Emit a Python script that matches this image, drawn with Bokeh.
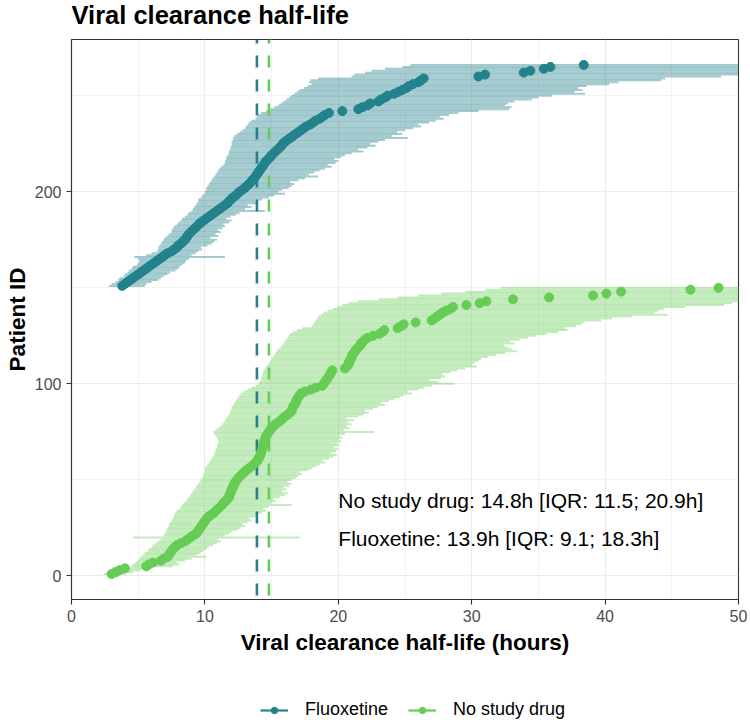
from bokeh.plotting import figure
from bokeh.layouts import column
from bokeh.models import (ColumnDataSource, FixedTicker, Label, Legend, LegendItem, Range1d)
from bokeh.embed import file_html
from bokeh.resources import INLINE

# ---------------- data ----------------
# No study drug: patients 1..150, sorted by estimated half-life (hours)
nsd_med = [3.0, 3.35, 3.6, 4.0, 5.6, 5.8, 6.1, 6.7, 6.9, 7.2,
           7.3, 7.4, 7.5, 7.6, 7.75, 7.9, 8.2, 8.5, 8.7, 8.9,
           9.1, 9.35, 9.45, 9.55, 9.65, 9.75, 9.85, 9.95, 10.05, 10.15,
           10.3, 10.5, 10.7, 10.85, 11.0, 11.15, 11.3, 11.4, 11.55, 11.7,
           11.8, 11.85, 11.9, 11.95, 12.0, 12.1, 12.15, 12.2, 12.3, 12.4,
           12.5, 12.65, 12.8, 12.95, 13.1, 13.3, 13.5, 13.65, 13.8, 13.95,
           14.0, 14.1, 14.15, 14.2, 14.25, 14.3, 14.35, 14.37, 14.4, 14.45,
           14.5, 14.55, 14.6, 14.7, 14.8, 14.9, 15.0, 15.15, 15.3, 15.5,
           15.7, 15.85, 16.0, 16.2, 16.4, 16.5, 16.55, 16.6, 16.7, 16.8,
           16.85, 16.9, 17.0, 17.1, 17.2, 17.5, 17.95, 18.3, 18.8, 18.9,
           19.0, 19.1, 19.2, 19.3, 19.4, 19.45, 19.55, 20.5, 20.65, 20.75,
           20.8, 20.85, 20.96, 21.0, 21.05, 21.15, 21.25, 21.35, 21.5, 21.65,
           21.7, 21.85, 22.0, 22.2, 22.6, 23.08, 23.3, 23.45, 24.45, 24.7,
           24.9, 25.8, 27.0, 27.2, 27.4, 27.6, 27.8, 28.07, 28.4, 28.6,
           29.6, 30.6, 31.1, 33.1, 35.8, 39.1, 40.1, 41.2, 46.4, 48.5]
nsd_lo = [2.4, 2.7, 2.9, 3.0, 4.5, 4.6, 4.8, 5.0, 5.1, 5.2,
          5.4, 5.5, 5.7, 5.8, 6.0, 6.1, 6.3, 6.5, 6.7, 4.6,
          6.9, 7.0, 7.1, 7.1, 7.2, 7.3, 7.3, 7.4, 7.5, 7.6,
          7.7, 7.7, 7.8, 7.9, 8.1, 8.2, 8.3, 8.4, 8.6, 8.7,
          8.8, 8.9, 9.0, 9.1, 9.2, 9.3, 9.4, 9.5, 9.6, 9.7,
          9.8, 9.9, 9.9, 10.0, 10.0, 10.0, 10.1, 10.2, 10.3, 10.4,
          10.5, 10.6, 10.7, 10.7, 10.8, 10.8, 10.9, 10.9, 11.0, 11.0,
          11.0, 10.9, 10.8, 10.7, 10.6, 10.8, 11.0, 11.2, 11.3, 11.4,
          11.5, 11.6, 11.7, 11.8, 11.9, 11.9, 12.0, 12.0, 12.1, 12.2,
          12.3, 12.4, 12.5, 12.6, 12.7, 12.9, 13.2, 13.5, 13.8, 14.0,
          14.1, 14.2, 14.2, 14.3, 14.3, 14.35, 14.4, 14.5, 14.6, 14.7,
          14.8, 14.9, 15.0, 15.1, 15.2, 15.3, 15.4, 15.5, 15.7, 15.8,
          15.9, 16.0, 16.1, 16.2, 16.3, 16.4, 16.6, 16.9, 17.3, 18.0,
          18.1, 18.2, 18.3, 18.4, 18.5, 18.7, 18.9, 19.2, 19.6, 19.9,
          20.3, 20.7, 21.5, 23.0, 24.45, 26.0, 27.7, 29.5, 31.0, 32.2]
nsd_hi = [4.1, 4.6, 5.2, 5.6, 7.6, 8.1, 7.9, 8.5, 9.0, 10.1,
          9.4, 9.7, 9.9, 10.1, 10.3, 10.6, 10.9, 11.2, 11.0, 17.1,
          11.5, 11.8, 12.0, 12.4, 12.7, 13.0, 12.8, 13.2, 13.5, 13.3,
          13.8, 14.0, 14.3, 14.6, 14.4, 14.8, 16.5, 15.0, 15.3, 15.1,
          15.6, 16.0, 16.2, 15.8, 16.1, 15.9, 16.3, 16.5, 16.2, 16.5,
          16.8, 17.0, 17.3, 17.1, 17.7, 18.0, 18.3, 18.6, 19.0, 18.8,
          19.3, 19.6, 19.9, 19.5, 19.8, 20.0, 19.7, 20.1, 19.9, 20.2,
          20.0, 20.3, 20.1, 20.5, 22.7, 20.4, 20.8, 20.6, 21.0, 20.7,
          21.2, 20.6, 21.5, 21.9, 22.3, 22.0, 22.6, 23.0, 23.5, 23.2,
          23.8, 24.2, 24.6, 24.9, 25.5, 25.2, 26.0, 26.4, 27.0, 28.7,
          27.5, 26.9, 27.7, 28.0, 27.8, 28.4, 28.9, 29.5, 30.4, 30.0,
          30.2, 30.5, 30.7, 31.2, 31.8, 32.5, 33.4, 33.0, 32.7, 32.4,
          33.2, 32.9, 33.6, 34.2, 34.8, 35.6, 36.5, 37.2, 37.0, 37.8,
          38.2, 38.4, 39.7, 40.5, 42.0, 44.7, 43.7, 44.0, 44.4, 46.0,
          48.9, 49.5, 52.0, 54.0, 56.0, 58.0, 60.0, 62.0, 66.0, 70.0]

# Fluoxetine: patients 151..266
flx_med = [3.8, 4.0, 4.2, 4.4, 4.6, 4.8, 5.0, 5.2, 5.4, 5.6,
           5.8, 6.0, 6.2, 6.4, 6.6, 6.8, 7.0, 7.2, 7.5, 7.7,
           7.9, 8.0, 8.2, 8.35, 8.5, 8.6, 8.7, 8.8, 8.95, 9.1,
           9.25, 9.4, 9.55, 9.7, 9.9, 10.1, 10.3, 10.5, 10.7, 10.9,
           11.1, 11.3, 11.5, 11.7, 11.8, 11.95, 12.1, 12.3, 12.45, 12.6,
           12.8, 13.0, 13.15, 13.3, 13.45, 13.55, 13.7, 13.8, 13.9, 14.0,
           14.1, 14.2, 14.3, 14.4, 14.5, 14.6, 14.75, 14.9, 15.0, 15.15,
           15.3, 15.45, 15.6, 15.75, 15.85, 16.0, 16.2, 16.4, 16.6, 16.8,
           17.0, 17.2, 17.4, 17.6, 17.9, 18.1, 18.3, 18.6, 18.8, 19.0,
           19.3, 20.3, 21.5, 21.8, 22.2, 22.4, 23.0, 23.2, 23.5, 23.7,
           24.2, 24.5, 24.8, 25.1, 25.3, 25.6, 26.0, 26.2, 26.4, 30.5,
           31.0, 33.9, 34.4, 35.4, 35.9, 38.4]
flx_lo = [2.8, 3.0, 3.3, 3.5, 3.6, 3.9, 4.0, 4.2, 4.3, 4.5,
          4.6, 4.9, 5.0, 5.1, 5.0, 4.7, 5.6, 6.0, 6.4, 6.5,
          6.5, 6.6, 6.7, 6.8, 6.9, 7.0, 7.2, 7.3, 7.5, 7.5,
          7.6, 7.7, 7.9, 8.0, 8.2, 8.3, 8.5, 8.7, 8.8, 9.0,
          9.1, 9.2, 9.3, 9.4, 9.5, 9.5, 9.7, 9.8, 10.0, 10.0,
          10.1, 10.1, 10.2, 10.3, 10.4, 10.5, 10.6, 10.7, 10.8, 10.9,
          11.0, 11.1, 11.2, 11.4, 11.5, 11.5, 11.6, 11.6, 11.7, 11.8,
          11.8, 11.9, 11.9, 12.0, 12.0, 12.0, 12.1, 12.1, 12.2, 12.4,
          12.6, 12.8, 13.0, 13.1, 13.2, 13.3, 13.5, 13.8, 13.9, 14.0,
          14.2, 14.6, 14.9, 15.2, 15.5, 15.7, 15.9, 16.1, 16.3, 16.5,
          16.7, 16.9, 17.1, 17.4, 17.7, 18.0, 17.8, 17.9, 18.5, 21.0,
          21.2, 22.0, 22.5, 23.5, 24.8, 25.4]
flx_hi = [5.5, 5.6, 6.0, 6.5, 6.7, 6.9, 7.2, 7.4, 7.8, 8.0,
          8.1, 8.3, 8.5, 8.6, 8.8, 11.5, 9.0, 9.3, 9.5, 9.8,
          9.7, 10.2, 10.5, 10.7, 10.9, 10.4, 11.0, 10.8, 11.2, 11.0,
          11.3, 11.5, 11.4, 11.8, 12.0, 11.6, 11.9, 12.3, 12.6, 14.5,
          13.0, 13.5, 13.2, 14.0, 13.8, 14.3, 14.8, 15.2, 16.0, 15.5,
          15.8, 16.3, 16.5, 16.7, 16.4, 17.0, 17.5, 18.5, 17.8, 18.2,
          18.6, 19.0, 19.5, 19.2, 19.8, 20.0, 19.7, 20.2, 20.5, 21.0,
          21.9, 21.5, 22.2, 22.8, 22.4, 23.0, 23.5, 25.2, 24.0, 24.8,
          24.4, 25.0, 25.6, 26.2, 26.0, 26.8, 27.3, 27.9, 27.6, 28.3,
          29.0, 30.5, 32.8, 33.0, 32.5, 32.7, 33.2, 34.5, 35.0, 36.0,
          38.5, 37.7, 38.3, 38.0, 38.6, 40.3, 41.0, 44.2, 44.5, 48.7,
          52.0, 55.0, 56.0, 58.0, 60.0, 62.0]

groups = ["Fluoxetine", "No study drug"]
group_median = [13.9, 14.8]
annotations = ["No study drug: 14.8h [IQR: 11.5; 20.9h]",
               "Fluoxetine: 13.9h [IQR: 9.1; 18.3h]"]
annotation_y = [39.5, 19.5]
x_ticks = [0, 10, 20, 30, 40, 50]
x_minor = [5, 15, 25, 35, 45]
y_ticks = [0, 100, 200]
y_minor = [50, 150, 250]

nsd_id = list(range(1, len(nsd_med) + 1))
flx_id = list(range(len(nsd_med) + 1, len(nsd_med) + len(flx_med) + 1))

TEAL = "#23828C"
GREEN = "#66CC55"
FONT = "Liberation Sans"
W = 748


def blank(height):
    f = figure(width=W, height=height, x_range=Range1d(0, 1), y_range=Range1d(0, 1),
               output_backend="svg", toolbar_location=None,
               x_axis_location=None, y_axis_location=None,
               min_border=0, min_border_left=0, min_border_right=0,
               min_border_top=0, min_border_bottom=0)
    f.outline_line_color = None
    f.xgrid.visible = False
    f.ygrid.visible = False
    f.background_fill_color = "white"
    f.border_fill_color = "white"
    return f


# ---------------- title strip (frame is aligned with the main frame) ----------------
p_title = blank(36)
p_title.add_layout(Label(x=0, y=21.5, x_units="screen", y_units="screen",
                         text="Viral clearance half-life", text_font=FONT,
                         text_font_style="bold", text_font_size="25.5px",
                         text_color="black", text_baseline="middle"))

# ---------------- main panel ----------------
n_all = len(nsd_med) + len(flx_med)
pad = 0.05 * (n_all - 1)
yr = Range1d(1 - pad, n_all + pad)
xr = Range1d(0, 50)

p = figure(width=W, height=654, x_range=xr, y_range=yr,
           output_backend="svg", toolbar_location=None,
           min_border_left=71, min_border_right=10,
           min_border_top=3, min_border_bottom=91)
p.background_fill_color = "white"
p.border_fill_color = "white"
p.outline_line_color = "#333333"
p.outline_line_width = 1.1

p.xaxis.ticker = FixedTicker(ticks=x_ticks, minor_ticks=x_minor)
p.yaxis.ticker = FixedTicker(ticks=y_ticks, minor_ticks=y_minor)
p.xaxis.axis_label = "Viral clearance half-life (hours)"
p.yaxis.axis_label = "Patient ID"
for ax in (p.xaxis[0], p.yaxis[0]):
    ax.axis_line_color = "#333333"
    ax.axis_line_width = 1.1
    ax.major_tick_line_color = "#333333"
    ax.major_tick_line_width = 1.1
    ax.major_tick_out = 5
    ax.major_tick_in = 0
    ax.minor_tick_line_color = None
    ax.major_label_text_font = FONT
    ax.major_label_text_font_size = "16px"
    ax.major_label_text_color = "#4D4D4D"
    ax.major_label_standoff = 5
    ax.axis_label_text_font = FONT
    ax.axis_label_text_font_size = "22.5px"
    ax.axis_label_text_font_style = "bold"
    ax.axis_label_text_color = "black"
p.xaxis[0].axis_label_standoff = 5
p.yaxis[0].axis_label_standoff = 2
for g in (p.xgrid[0], p.ygrid[0]):
    g.grid_line_color = "#EBEBEB"
    g.grid_line_width = 1.1
    g.minor_grid_line_color = "#EBEBEB"
    g.minor_grid_line_width = 0.6

# error bars
nsd_src = ColumnDataSource(dict(id=nsd_id, med=nsd_med, lo=nsd_lo, hi=nsd_hi))
flx_src = ColumnDataSource(dict(id=flx_id, med=flx_med, lo=flx_lo, hi=flx_hi))
p.segment(x0="lo", y0="id", x1="hi", y1="id", source=nsd_src,
          line_color=GREEN, line_alpha=0.4, line_width=2)
p.segment(x0="lo", y0="id", x1="hi", y1="id", source=flx_src,
          line_color=TEAL, line_alpha=0.42, line_width=2)

# group medians (dashed)
for gm, col in zip(group_median, [TEAL, GREEN]):
    p.segment(x0=[gm], y0=[yr.start], x1=[gm], y1=[yr.end],
              line_color=col, line_width=2.6, line_dash="12 12",
              line_dash_offset=20)

# points
p.scatter(x="med", y="id", source=nsd_src, size=9,
          fill_color=GREEN, line_color=GREEN)
p.scatter(x="med", y="id", source=flx_src, size=9,
          fill_color=TEAL, line_color=TEAL)

# annotations inside the panel
for txt, ty in zip(annotations, annotation_y):
    p.add_layout(Label(x=20, y=ty, text=txt, text_font=FONT,
                       text_font_size="21px", text_color="black",
                       text_baseline="middle", text_align="left"))

# ---------------- legend strip ----------------
p_leg = blank(30)
leg_items = []
for gname, col in zip(groups, [TEAL, GREEN]):
    r_line = p_leg.line(x=[-5, -4], y=[-5, -5], line_color=col, line_width=2.2)
    r_pt = p_leg.scatter(x=[-5], y=[-5], size=8, fill_color=col, line_color=col)
    leg_items.append(LegendItem(label=gname, renderers=[r_line, r_pt]))
legend = Legend(items=leg_items, location=(189, 0), orientation="horizontal",
                glyph_width=28, glyph_height=16, label_height=16,
                label_standoff=17, spacing=20, padding=0, margin=0,
                border_line_alpha=0, background_fill_alpha=0,
                label_text_font=FONT, label_text_font_size="18px",
                label_text_color="black")
p_leg.add_layout(legend)

layout = column(p_title, p, p_leg, spacing=0)
open("out.html", "w").write(file_html(layout, INLINE))
